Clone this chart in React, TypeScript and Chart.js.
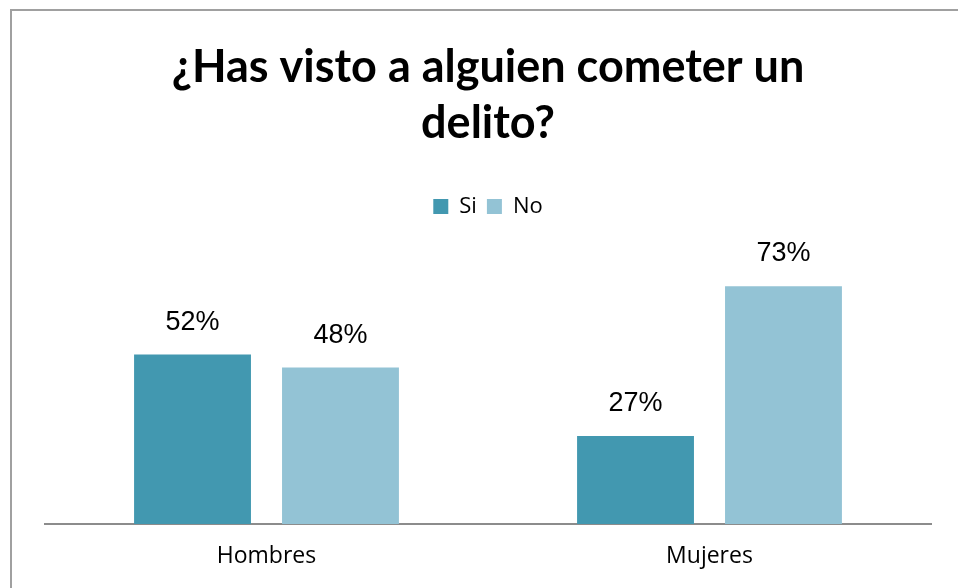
import React, { useEffect, useRef } from "react";
import { Chart, registerables } from "chart.js";

Chart.register(...registerables);

const categories = ["Hombres", "Mujeres"];
const seriesNames = ["Si", "No"];
const siValues = [52, 27];
const noValues = [48, 73];
const titleLines = ["¿Has visto a alguien cometer un", "delito?"];

const SI_COLOR = "#4298B0";
const NO_COLOR = "#93C3D5";

const valueLabels = {
  id: "valueLabels",
  afterDatasetsDraw(chart: any) {
    const ctx = chart.ctx;
    ctx.save();
    ctx.font = "27px 'Liberation Sans', Arial, sans-serif";
    ctx.fillStyle = "#000";
    ctx.textAlign = "center";
    ctx.textBaseline = "alphabetic";
    chart.data.datasets.forEach((ds: any, i: number) => {
      const meta = chart.getDatasetMeta(i);
      meta.data.forEach((bar: any, j: number) => {
        ctx.fillText(ds.data[j] + "%", bar.x, bar.y - 25);
      });
    });
    ctx.restore();
  },
};

export default function App() {
  const ref = useRef<HTMLCanvasElement>(null);
  useEffect(() => {
    if (!ref.current) return;
    const chart = new Chart(ref.current, {
      type: "bar",
      data: {
        labels: categories,
        datasets: [
          { label: seriesNames[0], data: siValues, backgroundColor: SI_COLOR },
          { label: seriesNames[1], data: noValues, backgroundColor: NO_COLOR },
        ],
      },
      options: {
        animation: false,
        responsive: false,
        maintainAspectRatio: false,
        layout: { padding: { left: 45, right: 27, top: 0, bottom: -1 } },
        datasets: {
          bar: { categoryPercentage: 0.668, barPercentage: 0.79 },
        },
        scales: {
          x: {
            grid: { display: false, drawTicks: false },
            border: { display: true, color: "#8c8c8c", width: 2 },
            ticks: {
              color: "#000",
              padding: 21,
              font: { family: "'Open Sans', sans-serif", size: 23, lineHeight: 1 },
            },
          },
          y: {
            display: false,
            min: 0,
            max: 91,
          },
        },
        plugins: {
          title: {
            display: true,
            text: titleLines,
            color: "#000",
            font: { family: "Lato, sans-serif", size: 45, weight: "bold", lineHeight: 1.25 },
            padding: { top: 39, bottom: 34 },
          },
          legend: {
            display: true,
            labels: {
              color: "#000",
              boxWidth: 15,
              boxHeight: 15,
              padding: 10,
              font: { family: "'Open Sans', sans-serif", size: 22 },
            },
          },
          tooltip: { enabled: false },
        },
      },
      plugins: [valueLabels],
    });
    return () => chart.destroy();
  }, []);
  return (
    <div style={{ position: "absolute", left: 0, top: 0, width: 958, height: 588, background: "#fff", overflow: "hidden" }}>
      <div
        style={{
          position: "absolute",
          left: 10,
          top: 9,
          width: 960,
          height: 600,
          borderLeft: "2px solid #a0a0a0",
          borderTop: "2px solid #a0a0a0",
        }}
      />
      <canvas ref={ref} width={958} height={588} style={{ position: "absolute", left: 0, top: 0 }} />
    </div>
  );
}
